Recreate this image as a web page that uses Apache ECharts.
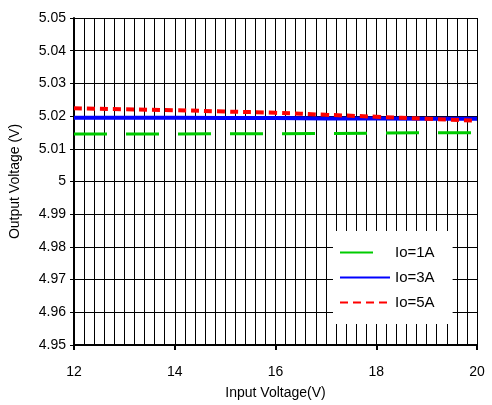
<!DOCTYPE html>
<html>
<head>
<meta charset="utf-8">
<script src="https://cdn.jsdelivr.net/npm/echarts@6/dist/echarts.min.js"></script>
<style>
  html, body { margin: 0; padding: 0; background: #fff; }
  #chart { width: 492px; height: 405px; }
</style>
</head>
<body>
<div id="chart"></div>
<script>
// Input voltage sweep (V)
const inputVoltage = [12, 13, 14, 15, 16, 17, 18, 19, 20];
// Output voltage (V) for each load current
const io1A = [5.0145, 5.0145, 5.0145, 5.0146, 5.0146, 5.0147, 5.0148, 5.0149, 5.0149];
const io3A = [5.0195, 5.0195, 5.0195, 5.0194, 5.0194, 5.0193, 5.0193, 5.0192, 5.0192];
const io5A = [5.0224, 5.0221, 5.0218, 5.0214, 5.0210, 5.0204, 5.0198, 5.0192, 5.0186];
const seriesNames = ['Io=1A', 'Io=3A', 'Io=5A'];

const pairs = (ys) => inputVoltage.map((x, i) => [x, ys[i]]);
const FONT = 'Liberation Sans, Arial, sans-serif';

const chart = echarts.init(document.getElementById('chart'), null, { renderer: 'canvas' });
chart.setOption({
  animation: false,
  backgroundColor: '#fff',
  grid: { left: 73, right: 15, top: 18, bottom: 60, containLabel: false },
  xAxis: {
    type: 'value', min: 12, max: 20, interval: 2,
    name: 'Input Voltage(V)', nameLocation: 'middle', nameGap: 41,
    nameTextStyle: { fontFamily: FONT, fontSize: 14, color: '#000' },
    axisLine: { show: true, lineStyle: { color: '#000', width: 2 } },
    axisTick: { show: true, length: 5, lineStyle: { color: '#000', width: 2 } },
    axisLabel: { fontFamily: FONT, fontSize: 14, color: '#000', margin: 20 },
    splitLine: { show: true, lineStyle: { color: '#000', width: 1 } },
    minorTick: { show: false, splitNumber: 10 },
    minorSplitLine: { show: true, lineStyle: { color: '#000', width: 1 } }
  },
  yAxis: {
    type: 'value', min: 4.95, max: 5.05, interval: 0.01,
    name: 'Output Voltage (V)', nameLocation: 'middle', nameGap: 52,
    nameTextStyle: { fontFamily: FONT, fontSize: 14, color: '#000' },
    axisLine: { show: true, lineStyle: { color: '#000', width: 2 } },
    axisTick: { show: true, length: 4, lineStyle: { color: '#000', width: 1 } },
    axisLabel: {
      fontFamily: FONT, fontSize: 14, color: '#000', margin: 8,
      formatter: (v) => String(parseFloat(v.toFixed(2)))
    },
    splitLine: { show: true, lineStyle: { color: '#000', width: 1 } }
  },
  legend: {
    orient: 'vertical', left: 333, top: 231,
    padding: [14, 18, 14, 6], itemGap: 10,
    itemWidth: 50, itemHeight: 14,
    backgroundColor: '#fff',
    itemStyle: { opacity: 0 },
    textStyle: { fontFamily: FONT, fontSize: 15, color: '#000' },
    data: seriesNames
  },
  series: [
    {
      name: seriesNames[0], type: 'line', data: pairs(io1A),
      symbol: 'none', smooth: false,
      lineStyle: { color: '#00cc00', width: 3, type: [33, 19] },
      itemStyle: { color: '#00cc00' }
    },
    {
      name: seriesNames[1], type: 'line', data: pairs(io3A),
      symbol: 'none', smooth: false,
      lineStyle: { color: '#0000ff', width: 4 },
      itemStyle: { color: '#0000ff' }
    },
    {
      name: seriesNames[2], type: 'line', data: pairs(io5A),
      symbol: 'none', smooth: true,
      lineStyle: { color: '#ff0000', width: 4, type: [8, 5] },
      itemStyle: { color: '#ff0000' }
    }
  ]
});
</script>
</body>
</html>
